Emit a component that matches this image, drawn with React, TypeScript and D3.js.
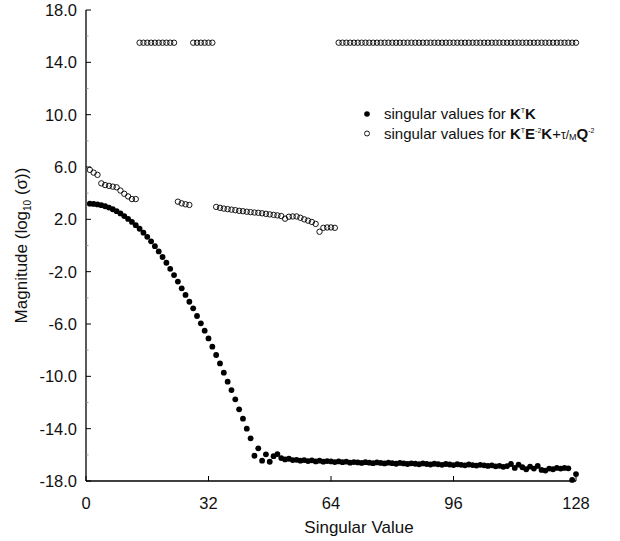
import React from "react";
import * as d3 from "d3";

// Singular value index
const indices: number[] = d3.range(1, 129);

// log10 of singular values for K^T K (filled circles), index 1..128
const filledValues: number[] = [
  3.20, 3.18, 3.14, 3.08, 3.00, 2.90, 2.77, 2.62, 2.45, 2.25,
  2.03, 1.80, 1.55, 1.28, 0.98, 0.66, 0.32, -0.05, -0.45, -0.88,
  -1.32, -1.78, -2.26, -2.76, -3.27, -3.78, -4.30, -4.80, -5.39, -5.95,
  -6.51, -7.10, -7.73, -8.37, -9.01, -9.72, -10.41, -11.05, -11.76, -12.52,
  -13.24, -14.00, -14.74, -16.07, -15.50, -16.45, -15.96, -16.53, -16.10, -15.94,
  -16.25, -16.35, -16.30, -16.40, -16.38, -16.45, -16.40, -16.48, -16.42, -16.50,
  -16.45, -16.52, -16.48, -16.50, -16.55, -16.50, -16.56, -16.52, -16.60, -16.55,
  -16.58, -16.62, -16.56, -16.60, -16.64, -16.58, -16.62, -16.66, -16.60, -16.64,
  -16.68, -16.62, -16.66, -16.70, -16.65, -16.68, -16.72, -16.66, -16.70, -16.74,
  -16.68, -16.72, -16.76, -16.70, -16.74, -16.78, -16.72, -16.76, -16.80, -16.74,
  -16.78, -16.82, -16.76, -16.80, -16.85, -16.80, -16.88, -16.84, -16.92, -16.86,
  -16.70, -17.00, -16.75, -16.95, -17.10, -16.90, -17.05, -16.85, -17.15, -17.20,
  -17.05, -17.10, -17.00, -17.05, -17.00, -17.03, -17.92, -17.47,
];

// log10 of singular values for K^T E^-2 K + tau/M Q^-2 (open circles), index 1..128
const openValues: number[] = [
  5.78, 5.57, 5.40, 4.75, 4.62, 4.56, 4.50, 4.45, 4.20, 3.95,
  3.75, 3.55, 3.55, 15.5, 15.5, 15.5, 15.5, 15.5, 15.5, 15.5,
  15.5, 15.5, 15.5, 3.35, 3.22, 3.15, 3.10, 15.5, 15.5, 15.5,
  15.5, 15.5, 15.5, 2.95, 2.88, 2.82, 2.78, 2.74, 2.70, 2.65,
  2.62, 2.58, 2.55, 2.52, 2.50, 2.46, 2.42, 2.38, 2.34, 2.30,
  2.25, 2.05, 2.20, 2.22, 2.22, 2.12, 2.00, 1.90, 1.80, 1.65,
  1.05, 1.35, 1.38, 1.38, 1.35, 15.5, 15.5, 15.5, 15.5, 15.5,
  15.5, 15.5, 15.5, 15.5, 15.5, 15.5, 15.5, 15.5, 15.5, 15.5,
  15.5, 15.5, 15.5, 15.5, 15.5, 15.5, 15.5, 15.5, 15.5, 15.5,
  15.5, 15.5, 15.5, 15.5, 15.5, 15.5, 15.5, 15.5, 15.5, 15.5,
  15.5, 15.5, 15.5, 15.5, 15.5, 15.5, 15.5, 15.5, 15.5, 15.5,
  15.5, 15.5, 15.5, 15.5, 15.5, 15.5, 15.5, 15.5, 15.5, 15.5,
  15.5, 15.5, 15.5, 15.5, 15.5, 15.5, 15.5, 15.5,
];

const xTicks: number[] = [0, 32, 64, 96, 128];
const yTicks: number[] = [18, 14, 10, 6, 2, -2, -6, -10, -14, -18];
const yMinorTicks: number[] = [16, 12, 8, 4, 0, -4, -8, -12, -16];

const FONT = "'Liberation Sans', Arial, Helvetica, sans-serif";

export default function App() {
  const W = 620;
  const H = 541;
  const x = d3.scaleLinear().domain([0, 128]).range([86, 576]);
  const y = d3.scaleLinear().domain([-18, 18]).range([481, 10]);

  const x0 = x(0);
  const yb = y(-18);

  return (
    <svg
      width={W}
      height={H}
      style={{ position: "absolute", left: 0, top: 0, background: "#fff" }}
      fontFamily={FONT}
    >
      <rect x={0} y={0} width={W} height={H} fill="#fff" />
      {/* axes */}
      <line x1={x0} y1={y(18)} x2={x0} y2={yb} stroke="#000" strokeWidth={1.3} />
      <line x1={x0} y1={yb} x2={x(128)} y2={yb} stroke="#000" strokeWidth={1.3} />
      {yTicks.map((t) => (
        <g key={"yt" + t}>
          <line x1={x0} x2={x0 + 5} y1={y(t)} y2={y(t)} stroke="#000" strokeWidth={1} />
          <text
            x={77}
            y={y(t)}
            dy="0.36em"
            textAnchor="end"
            fontSize={16.5}
            fill="#111"
          >
            {t.toFixed(1)}
          </text>
        </g>
      ))}
      {yMinorTicks.map((t) => (
        <line key={"ym" + t} x1={x0} x2={x0 + 2.5} y1={y(t)} y2={y(t)} stroke="#888" strokeWidth={0.8} />
      ))}
      {xTicks.map((t) => (
        <g key={"xt" + t}>
          <line x1={x(t)} x2={x(t)} y1={yb} y2={yb - 5} stroke="#000" strokeWidth={1} />
          <text x={x(t)} y={509} textAnchor="middle" fontSize={16.5} fill="#111">
            {t}
          </text>
        </g>
      ))}
      {/* axis titles */}
      <text x={359} y={533} textAnchor="middle" fontSize={17} fill="#111">
        Singular Value
      </text>
      <text
        transform={`translate(27,${(y(18) + yb) / 2}) rotate(-90)`}
        textAnchor="middle"
        fontSize={17}
        fill="#111"
      >
        Magnitude (log
        <tspan fontSize={10} dy={4}>10</tspan>
        <tspan dy={-4}> (σ))</tspan>
      </text>

      {/* open circles */}
      {indices.map((i, k) => (
        <circle
          key={"o" + i}
          cx={x(i)}
          cy={y(openValues[k])}
          r={2.7}
          fill="none"
          stroke="#000"
          strokeWidth={0.9}
        />
      ))}
      {/* filled circles */}
      {indices.map((i, k) => (
        <circle key={"f" + i} cx={x(i)} cy={y(filledValues[k])} r={2.9} fill="#000" />
      ))}

      {/* legend */}
      <circle cx={367} cy={114} r={2.8} fill="#000" />
      <circle cx={367} cy={133.5} r={2.5} fill="none" stroke="#000" strokeWidth={0.9} />
      <text x={384} y={119} fontSize={15} fill="#111">
        singular values for{" "}
        <tspan fontWeight="bold">K</tspan>
        <tspan fontSize={7} dy={-6}>T</tspan>
        <tspan fontWeight="bold" dy={6}>K</tspan>
      </text>
      <text x={384} y={138.5} fontSize={15} fill="#111">
        singular values for{" "}
        <tspan fontWeight="bold">K</tspan>
        <tspan fontSize={7} dy={-6}>T</tspan>
        <tspan fontWeight="bold" dy={6}>E</tspan>
        <tspan fontSize={7} dy={-6}>-2</tspan>
        <tspan fontWeight="bold" dy={6}>K</tspan>
        <tspan>+</tspan>
        <tspan fontSize={12}>τ/</tspan>
        <tspan fontSize={9} dy={1}>M</tspan>
        <tspan fontWeight="bold" dy={-1}>Q</tspan>
        <tspan fontSize={7} dy={-6}>-2</tspan>
      </text>
    </svg>
  );
}
